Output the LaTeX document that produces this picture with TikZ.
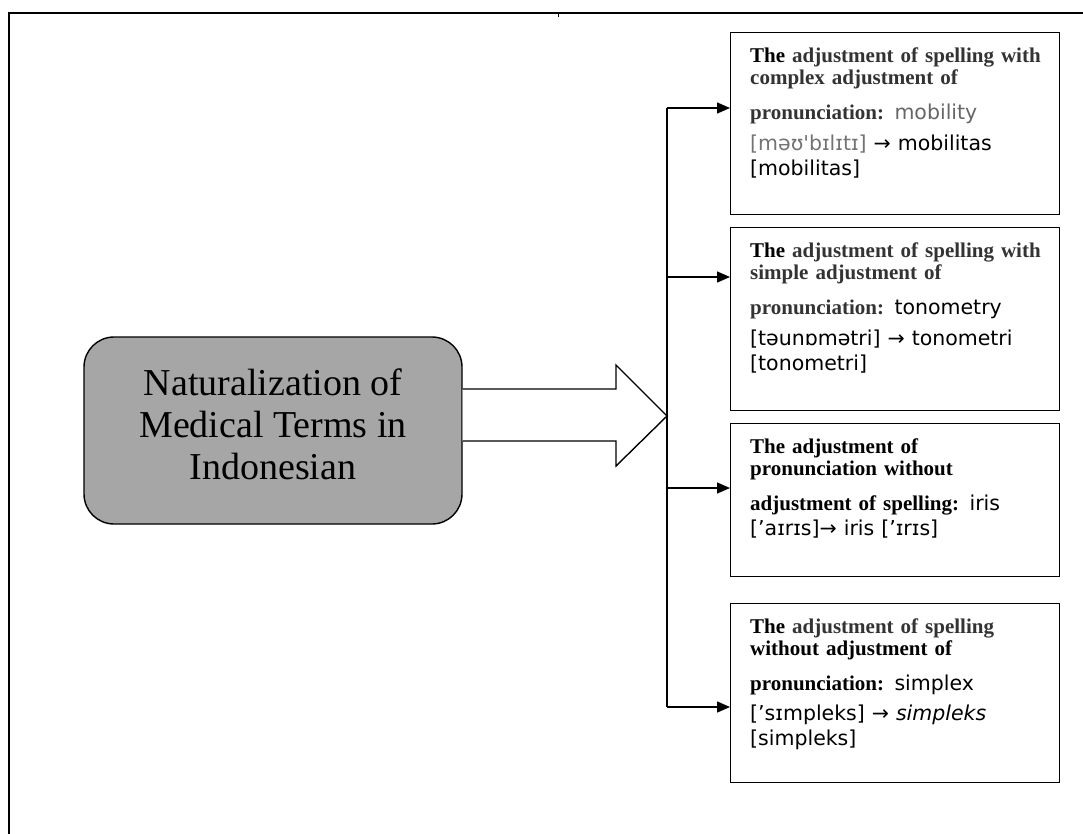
\documentclass[tikz,border=0pt]{standalone}
\usepackage{fontspec}
\setmainfont{Liberation Serif}
\newfontfamily\ipafont{DejaVu Sans}
\usetikzlibrary{arrows.meta}

\newcommand{\ipa}[1]{{\ipafont\mdseries\fontsize{20.5}{22}\selectfont #1}}
\colorlet{soft}{black!80}

\begin{document}
\begin{tikzpicture}[x=1pt,y=-1pt,
  catbox/.style={draw,line width=1.4pt,minimum width=329pt,anchor=north west,inner sep=0pt},
  cattext/.style={anchor=north west,inner xsep=20pt,inner ysep=16pt,text width=300pt,align=left,
    font=\bfseries\fontsize{21}{22}\selectfont},
  branch/.style={line width=1.4pt,-{Triangle[length=13pt,width=11pt]}}]
  \useasboundingbox (0,0) rectangle (1083,833);
  % page frame
  \draw[line width=1.6pt] (9,850) -- (9,13) -- (1100,13);
  \draw[line width=1pt] (558,13) -- (558,17);

  \node[draw,line width=1.4pt,fill=gray!70,rounded corners=30pt,minimum width=378pt,minimum height=187pt] (nat) at (273,430.5) {};
  \node[align=center,font=\fontsize{38}{42}\selectfont] (natlabel) at ([yshift=6pt]nat.center) {Naturalization of\\Medical Terms in\\Indonesian};

  % big arrow
  \coordinate (tip) at (667,416);
  \draw[line width=1.4pt,fill=white] (nat.east |- 0,389) -- (616,389) -- (616,365) -- (tip) -- (616,466) -- (616,441) -- (nat.east |- 0,441);

  \node[catbox,minimum height=182pt] (b1) at (730,32) {};
  \node[catbox,minimum height=183pt] (b2) at (730,227) {};
  \node[catbox,minimum height=153pt] (b3) at (730,423) {};
  \node[catbox,minimum height=179pt] (b4) at (730,603) {};

  \node[cattext] (t1) at (b1.north west) {The \textcolor{soft}{adjustment of spelling with}\\\textcolor{soft}{complex adjustment of}\\[13pt]
    \textcolor{soft}{pronunciation:} \ipa{\textcolor{black!60}{mobility}}\\[9pt]\ipa{\textcolor{black!55}{[məʊ'bɪlɪtɪ]} → mobilitas}\\[3pt]\ipa{[mobilitas]}};
  \node[cattext] (t2) at (b2.north west) {The \textcolor{soft}{adjustment of spelling with}\\\textcolor{soft}{simple adjustment of}\\[13pt]
    \textcolor{soft}{pronunciation:} \ipa{tonometry}\\[9pt]\ipa{[təunɒmətri] → tonometri}\\[3pt]\ipa{[tonometri]}};
  \node[cattext] (t3) at (b3.north west) {The adjustment of\\pronunciation without\\[13pt]
    adjustment of spelling: \ipa{iris}\\[3pt]\ipa{[’aɪrɪs]→ iris [’ɪrɪs]}};
  \node[cattext] (t4) at (b4.north west) {The \textcolor{soft}{adjustment of spelling}\\without adjustment of\\[13pt]
    pronunciation: \ipa{simplex}\\[8pt]\ipa{[’sɪmpleks] → \textit{simpleks}}\\[3pt]\ipa{[simpleks]}};

  % branches
  \coordinate (s1) at (667,108);
  \coordinate (s2) at (667,277);
  \coordinate (s3) at (667,488);
  \coordinate (s4) at (667,707);
  \draw[line width=1.4pt] (s1) -- (s4);
  \draw[branch] (s1) -- (s1 -| b1.west);
  \draw[branch] (s2) -- (s2 -| b2.west);
  \draw[branch] (s3) -- (s3 -| b3.west);
  \draw[branch] (s4) -- (s4 -| b4.west);
\end{tikzpicture}
\end{document}
